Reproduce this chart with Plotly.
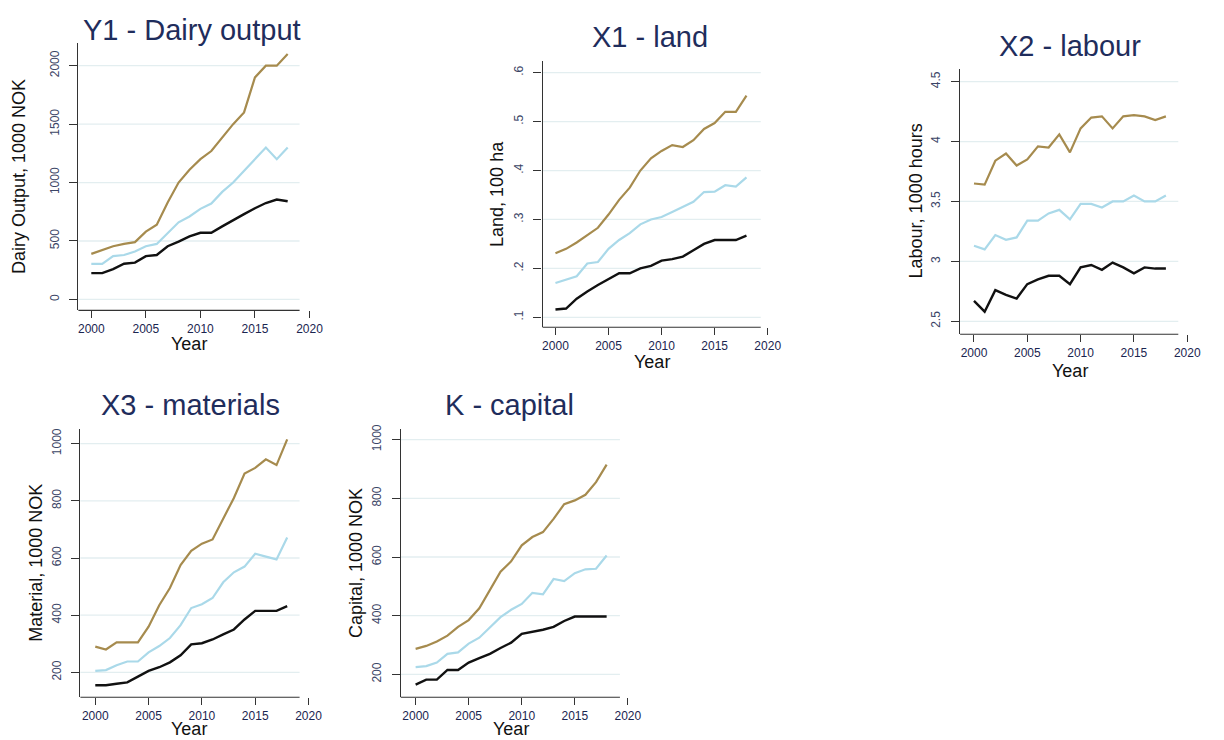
import plotly.graph_objects as go

# ---------------- data ----------------
years = list(range(2000, 2019))

# Y1 - Dairy output (1000 NOK)
y1_high = [390, 420, 455, 475, 490, 580, 640, 830, 1000, 1110, 1200, 1270, 1390, 1500, 1600, 1900, 2000, 2000, 2100]
y1_mid = [305, 305, 370, 380, 410, 455, 475, 570, 660, 710, 775, 820, 920, 1000, 1100, 1200, 1300, 1200, 1300]
y1_low = [225, 225, 260, 305, 315, 370, 380, 455, 495, 540, 570, 570, 625, 680, 730, 780, 825, 855, 840]

# X1 - land (100 ha)
x1_high = [0.231, 0.240, 0.253, 0.268, 0.283, 0.310, 0.340, 0.365, 0.400, 0.425, 0.440, 0.452, 0.448, 0.462, 0.485, 0.497, 0.520, 0.520, 0.553]
x1_mid = [0.170, 0.177, 0.184, 0.210, 0.213, 0.240, 0.258, 0.272, 0.290, 0.300, 0.305, 0.315, 0.326, 0.336, 0.356, 0.357, 0.370, 0.367, 0.386]
x1_low = [0.116, 0.118, 0.138, 0.153, 0.166, 0.178, 0.190, 0.190, 0.200, 0.205, 0.216, 0.219, 0.224, 0.237, 0.250, 0.258, 0.258, 0.258, 0.267]

# X2 - labour (1000 hours)
x2_high = [3.65, 3.64, 3.84, 3.90, 3.80, 3.85, 3.96, 3.95, 4.06, 3.91, 4.11, 4.20, 4.21, 4.11, 4.21, 4.22, 4.21, 4.18, 4.21]
x2_mid = [3.13, 3.10, 3.22, 3.18, 3.20, 3.34, 3.34, 3.40, 3.43, 3.35, 3.48, 3.48, 3.45, 3.50, 3.50, 3.55, 3.50, 3.50, 3.55]
x2_low = [2.67, 2.58, 2.76, 2.72, 2.69, 2.81, 2.85, 2.88, 2.88, 2.81, 2.95, 2.97, 2.93, 2.99, 2.95, 2.90, 2.95, 2.94, 2.94]

# X3 - materials (1000 NOK)
x3_high = [290, 280, 305, 305, 305, 360, 435, 495, 575, 625, 650, 665, 740, 810, 895, 915, 945, 925, 1015]
x3_mid = [205, 208, 225, 238, 238, 270, 292, 320, 365, 425, 438, 460, 515, 550, 570, 615, 605, 595, 672]
x3_low = [155, 155, 160, 165, 185, 205, 218, 235, 260, 298, 302, 315, 333, 350, 385, 415, 415, 415, 432]

# K - capital (1000 NOK)
k_high = [287, 297, 312, 332, 362, 385, 425, 490, 550, 585, 640, 668, 685, 730, 780, 793, 812, 855, 915]
k_mid = [225, 228, 240, 270, 275, 305, 325, 360, 395, 420, 440, 478, 473, 525, 518, 545, 558, 560, 605]
k_low = [165, 182, 182, 215, 215, 240, 255, 270, 290, 308, 338, 345, 352, 362, 382, 397, 397, 395, 397]

x_ticks = [2000, 2005, 2010, 2015, 2020]

y1_ticks = [0, 500, 1000, 1500, 2000]
y1_ticklabels = ["0", "500", "1000", "1500", "2000"]
x1_ticks = [0.1, 0.2, 0.3, 0.4, 0.5, 0.6]
x1_ticklabels = [".1", ".2", ".3", ".4", ".5", ".6"]
x2_ticks = [2.5, 3.0, 3.5, 4.0, 4.5]
x2_ticklabels = ["2.5", "3", "3.5", "4", "4.5"]
x3_ticks = [200, 400, 600, 800, 1000]
x3_ticklabels = ["200", "400", "600", "800", "1000"]
k_ticks = [200, 400, 600, 800, 1000]
k_ticklabels = ["200", "400", "600", "800", "1000"]

titles = ["Y1 - Dairy output", "X1 - land", "X2 - labour", "X3 - materials", "K - capital"]
ytitles = ["Dairy Output, 1000 NOK", "Land, 100 ha", "Labour, 1000 hours",
           "Material, 1000 NOK", "Capital, 1000 NOK"]

# ---------------- style / layout ----------------
OFF = 8                      # page body margin of the html page
W, H = 1224 - OFF, 740 - OFF  # figure fits exactly inside the window
GOLD = "#a68b4e"
LTBLUE = "#aad9e9"
BLACK = "#111111"
GRID = "#e3eef0"
NAVY = "#1f2d5c"
FONT = "Liberation Sans, Arial, sans-serif"

# positions are given in window pixels (reference picture)
panels = [
    dict(series=(y1_high, y1_mid, y1_low), ticks=y1_ticks, labels=y1_ticklabels,
         pos=dict(left=79, x2000=92, x2020=312, gridend=302, cal=((0, 297), (2000, 62)), top=39, bottom=308,
                  title=(194, 26), ytitle=(19, 173), year=(190, 342))),
    dict(series=(x1_high, x1_mid, x1_low), ticks=x1_ticks, labels=x1_ticklabels,
         pos=dict(left=547, x2000=560, x2020=774, gridend=767, cal=((0.1, 315), (0.6, 69)), top=57, bottom=325,
                  title=(655, 33), ytitle=(501, 191), year=(657, 360))),
    dict(series=(x2_high, x2_mid, x2_low), ticks=x2_ticks, labels=x2_ticklabels,
         pos=dict(left=968, x2000=982, x2020=1197, gridend=1188, cal=((2.5, 319), (4.5, 78)), top=65, bottom=332,
                  title=(1079, 42), ytitle=(923, 198), year=(1079, 369))),
    dict(series=(x3_high, x3_mid, x3_low), ticks=x3_ticks, labels=x3_ticklabels,
         pos=dict(left=81, x2000=96, x2020=311, gridend=302, cal=((200, 672), (1000, 442)), top=427, bottom=697,
                  title=(192, 403), ytitle=(36, 562), year=(190, 729))),
    dict(series=(k_high, k_mid, k_low), ticks=k_ticks, labels=k_ticklabels,
         pos=dict(left=404, x2000=419, x2020=633, gridend=625, cal=((200, 674), (1000, 438)), top=427, bottom=697,
                  title=(514, 403), ytitle=(359, 562), year=(515, 729))),
]


def fx(px):
    return (px - OFF) / W


def fy(py):
    return 1 - (py - OFF) / H


fig = go.Figure()
layout = dict(width=W, height=H, margin=dict(l=0, r=0, t=0, b=0),
              paper_bgcolor="white", plot_bgcolor="white", showlegend=False,
              font=dict(family=FONT), shapes=[], annotations=[])

for i, p in enumerate(panels):
    n = "" if i == 0 else str(i + 1)
    xa, ya = "x" + n, "y" + n
    L = p["pos"]
    xper = (L["x2020"] - L["x2000"]) / 20.0
    right_px = L["x2020"] + 4
    xr = [2000 + (L["left"] - L["x2000"]) / xper, 2000 + (right_px - L["x2000"]) / xper]
    (va, pa), (vb, pb) = L["cal"]
    yper = (pa - pb) / (vb - va)
    yr = [va - (L["bottom"] - pa) / yper, va + (pa - L["top"]) / yper]
    gfrac = (L["gridend"] - L["left"]) / (right_px - L["left"])

    for vals, col, w in zip(p["series"], (GOLD, LTBLUE, BLACK), (2.2, 2.2, 2.4)):
        fig.add_trace(go.Scatter(x=years, y=vals, mode="lines", xaxis=xa, yaxis=ya,
                                 line=dict(color=col, width=w), hoverinfo="x+y"))

    layout["xaxis" + n] = dict(domain=[fx(L["left"]), fx(right_px)], range=xr, anchor=ya,
                               tickvals=x_ticks, ticktext=[str(t) for t in x_ticks],
                               ticks="outside", ticklen=7, tickwidth=1.2, tickcolor="#333333",
                               showline=False, showgrid=False, zeroline=False,
                               tickfont=dict(size=12, color="#1a2550", family=FONT))
    layout["yaxis" + n] = dict(domain=[fy(L["bottom"]), fy(L["top"])], range=yr, anchor=xa,
                               tickvals=p["ticks"], ticktext=p["labels"], tickangle=-90,
                               ticks="outside", ticklen=8, tickwidth=1.2, tickcolor="#333333",
                               ticklabelstandoff=6,
                               showline=True, linecolor="#333333", linewidth=1.2,
                               showgrid=False, zeroline=False,
                               tickfont=dict(size=12, color="#3b4566", family=FONT))
    # x axis line stops at plot region edge
    layout["shapes"].append(dict(type="line", xref=xa + " domain", yref=ya + " domain",
                                 x0=0, x1=gfrac, y0=0, y1=0,
                                 line=dict(color="#333333", width=1.2), layer="above"))
    for t in p["ticks"]:
        layout["shapes"].append(dict(type="line", xref=xa + " domain", yref=ya,
                                     x0=0, x1=gfrac, y0=t, y1=t,
                                     line=dict(color=GRID, width=1.3), layer="below"))
    tx, ty = L["title"]
    layout["annotations"].append(dict(text=titles[i], x=fx(tx), y=fy(ty), xref="paper", yref="paper",
                                      showarrow=False, xanchor="center", yanchor="middle",
                                      font=dict(size=29, color=NAVY, family=FONT)))
    yx, yy = L["ytitle"]
    layout["annotations"].append(dict(text=ytitles[i], x=fx(yx), y=fy(yy), xref="paper", yref="paper",
                                      showarrow=False, textangle=-90, xanchor="center", yanchor="middle",
                                      font=dict(size=18, color="#111111", family=FONT)))
    rx, ry = L["year"]
    layout["annotations"].append(dict(text="Year", x=fx(rx), y=fy(ry), xref="paper", yref="paper",
                                      showarrow=False, xanchor="center", yanchor="middle",
                                      font=dict(size=18, color="#111111", family=FONT)))

fig.update_layout(**layout)
fig.write_html("out.html")
